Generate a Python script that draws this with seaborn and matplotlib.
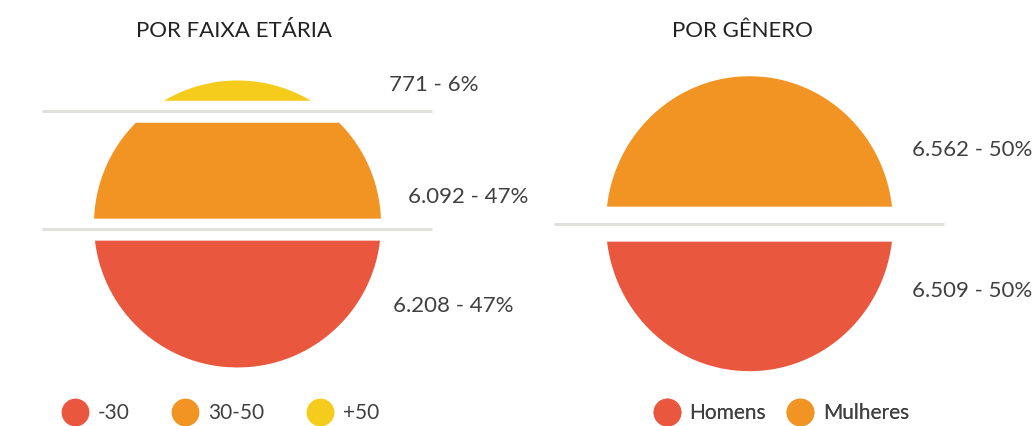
import numpy as np
import matplotlib
matplotlib.use("Agg")
import matplotlib.pyplot as plt
from matplotlib.lines import Line2D
import seaborn as sns

# ── data ──────────────────────────────────────────────────────────────
# slices listed top -> bottom
age_labels = ["+50", "30-50", "-30"]
age_values = [771, 6092, 6208]

gender_labels = ["Mulheres", "Homens"]
gender_values = [6562, 6509]

# ── style ─────────────────────────────────────────────────────────────
RED = "#E8573E"
ORANGE = "#F29423"
YELLOW = "#F5CB1C"
SEP = "#E0E0DD"
TXT = "#404040"
TITLE = "#222222"

age_colors = [YELLOW, ORANGE, RED]
gender_colors = [ORANGE, RED]

sns.set_theme(style="white")
plt.rcParams["font.family"] = ["Lato", "DejaVu Sans"]


def fmt(v, total):
    return f"{v:,}".replace(",", ".") + f" - {round(100 * v / total)}%"


def area_cuts(values):
    # normalised height (-1 top .. 1 bottom) where the area above equals the cumulative share
    grid = np.linspace(-1, 1, 4001)
    area = (grid * np.sqrt(1 - grid ** 2) + np.arcsin(grid) + np.pi / 2) / np.pi
    cum = np.cumsum(values)[:-1] / np.sum(values)
    return np.interp(cum, area, grid)


def sliced_circle(ax, cx, cy, rx, ry, values, colors, gap, line_half):
    cuts = cy + area_cuts(values) * ry
    edges = [cy - ry] + list(cuts) + [cy + ry]
    n = len(values)
    for i, c in enumerate(colors):
        top = edges[i] + (gap / 2 if i > 0 else 0)
        bot = edges[i + 1] - (gap / 2 if i < n - 1 else 0)
        y = np.linspace(top, bot, 300)
        hw = rx * np.sqrt(np.clip(1 - ((y - cy) / ry) ** 2, 0, None))
        ax.fill_betweenx(y, cx - hw, cx + hw, color=c, lw=0)
    ax.hlines(cuts, cx - line_half, cx + line_half, color=SEP, lw=2.2)


def legend(ax, labels, colors, x, y, colspace):
    handles = [Line2D([], [], ls="", marker="o", markersize=20, markerfacecolor=c,
                      markeredgewidth=0) for c in colors]
    lg = ax.legend(handles, labels, loc="center", bbox_to_anchor=(x, y),
                   bbox_transform=ax.transData, ncol=len(labels), frameon=False,
                   fontsize=15, handlelength=1.35, handletextpad=0.42,
                   columnspacing=colspace, labelcolor=TXT, borderpad=0)
    ax.add_artist(lg)


fig = plt.figure(figsize=(10.34, 4.26), dpi=100)
ax = fig.add_axes([0, 0, 1, 1])
ax.set_xlim(0, 1034)
ax.set_ylim(426, 0)
ax.axis("off")

# ── left: age groups ─────────────────────────────────────────────────
age_total = sum(age_values)
sliced_circle(ax, 237, 223.5, 143.5, 143.5, age_values, age_colors, gap=22, line_half=195)
ax.text(234, 31, "POR FAIXA ETÁRIA", ha="center", va="center", fontsize=16, color=TITLE)
for v, (lx, ly) in zip(age_values, [(389, 85), (408, 197), (393, 306)]):
    ax.text(lx, ly, fmt(v, age_total), ha="left", va="center", fontsize=16, color=TXT)
legend(ax, age_labels[::-1], age_colors[::-1], 220, 413, 2.0)

# ── right: gender ────────────────────────────────────────────────────
gender_total = sum(gender_values)
sliced_circle(ax, 749, 223.2, 143.5, 147.5, gender_values, gender_colors, gap=35, line_half=195)
ax.text(742, 31, "POR GÊNERO", ha="center", va="center", fontsize=16, color=TITLE)
for v, (lx, ly) in zip(gender_values, [(912, 150), (912, 291)]):
    ax.text(lx, ly, fmt(v, gender_total), ha="left", va="center", fontsize=16, color=TXT)
legend(ax, gender_labels[::-1], gender_colors[::-1], 781, 413, 0.96)

fig.savefig("out.png", dpi=100, facecolor="white")
